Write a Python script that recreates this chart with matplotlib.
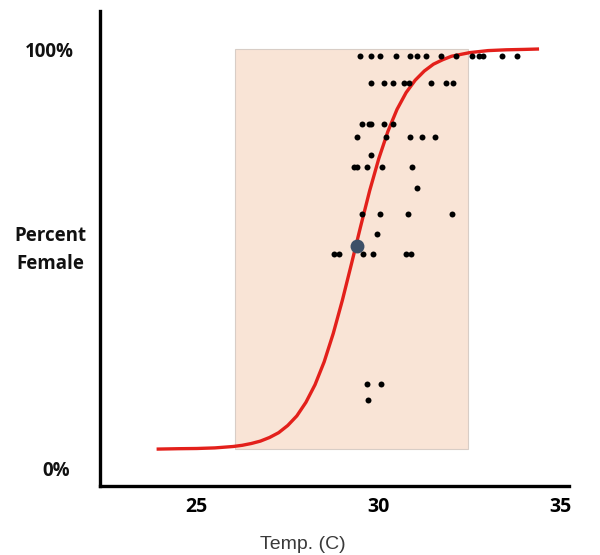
import matplotlib
matplotlib.use("Agg")
import matplotlib.pyplot as plt
from matplotlib.patches import Rectangle

# fitted curve
curve_temp = [23.9, 24.5, 25.0, 25.5, 26.0, 26.25, 26.5, 26.75, 27.0, 27.25, 27.5,
              27.75, 28.0, 28.25, 28.5, 28.75, 29.0, 29.25, 29.5, 29.75, 30.0,
              30.25, 30.5, 30.75, 31.0, 31.25, 31.5, 31.75, 32.0, 32.5, 33.0,
              33.5, 34.0, 34.4]
curve_pct = [0.0, 0.1, 0.15, 0.3, 0.65, 0.95, 1.4, 2.0, 2.9, 4.1, 5.9,
             8.3, 11.7, 16.1, 21.8, 28.9, 37.2, 46.3, 55.6, 64.6, 72.6,
             79.4, 84.9, 89.1, 92.2, 94.5, 96.2, 97.3, 98.2, 99.1, 99.6,
             99.8, 99.9, 100.0]

# observed nests
nest_temp = [29.48, 29.80, 30.03, 30.47, 30.86, 31.04, 31.29, 31.71, 32.12, 32.55, 32.76, 32.87, 33.37, 33.80,
             29.80, 30.15, 30.40, 30.70, 30.84, 31.43, 31.84, 32.04,
             29.55, 29.73, 29.80, 30.15, 30.40,
             29.39, 30.19, 30.86, 31.20, 31.54,
             29.80,
             29.33, 29.39, 29.67, 30.08, 30.92,
             31.04,
             29.53, 30.04, 30.79, 32.02,
             29.94,
             28.78, 28.91, 29.57, 29.85, 30.75, 30.88,
             29.67, 30.06, 29.71]
nest_pct = [98.3] * 14 + [91.4] * 8 + [81.2] * 5 + [77.9] * 5 + [73.4] + [70.4] * 5 + \
           [65.3] + [58.75] * 4 + [53.75] + [48.7] * 6 + [16.25, 16.25, 12.25]

pivot_temp = 29.41
pivot_pct = 50.75

range_lo, range_hi = 26.04, 32.45

fig = plt.figure(figsize=(6, 5.55), dpi=100)
ax = fig.add_axes([0.1663, 0.1252, 0.7825, 0.855])

ax.add_patch(Rectangle((range_lo, 0), range_hi - range_lo, 100,
                       facecolor="#f9e4d6", edgecolor="#d8cdc6", lw=0.8, zorder=1))
ax.plot(curve_temp, curve_pct, color="#e3201b", lw=2.4, zorder=2, solid_capstyle="butt")
ax.plot(nest_temp, nest_pct, "o", color="black", ms=4.3, mec="none", zorder=3)
ax.plot([pivot_temp], [pivot_pct], "o", color="#3d5068", ms=10, mec="none", zorder=4)

ax.set_xlim(22.34, 35.23)
ax.set_ylim(-9.1, 109.5)
ax.set_yticks([])
ax.set_xticks([25, 30, 35])
ax.set_xticklabels(["25", "30", "35"], fontfamily="Open Sans", fontweight="bold", fontsize=14)
ax.tick_params(axis="x", length=0, pad=8.5)

for side in ["top", "right"]:
    ax.spines[side].set_visible(False)
for side in ["left", "bottom"]:
    ax.spines[side].set_linewidth(2.4)
    ax.spines[side].set_color("black")

bold = dict(fontfamily="Open Sans", fontweight="bold", fontsize=13.5, color="#111111", ha="center", va="baseline")
fig.text(0.0825, 0.8968, "100%", **bold)
fig.text(0.0833, 0.5663, "Percent", **bold)
fig.text(0.0833, 0.5148, "Female", **bold)
fig.text(0.0938, 0.1423, "0%", **bold)
fig.text(0.504, 0.0108, "Temp. (C)", fontfamily="Liberation Sans", fontsize=14,
         color="#3a3a3a", ha="center", va="baseline")

fig.savefig("out.png", dpi=100)
